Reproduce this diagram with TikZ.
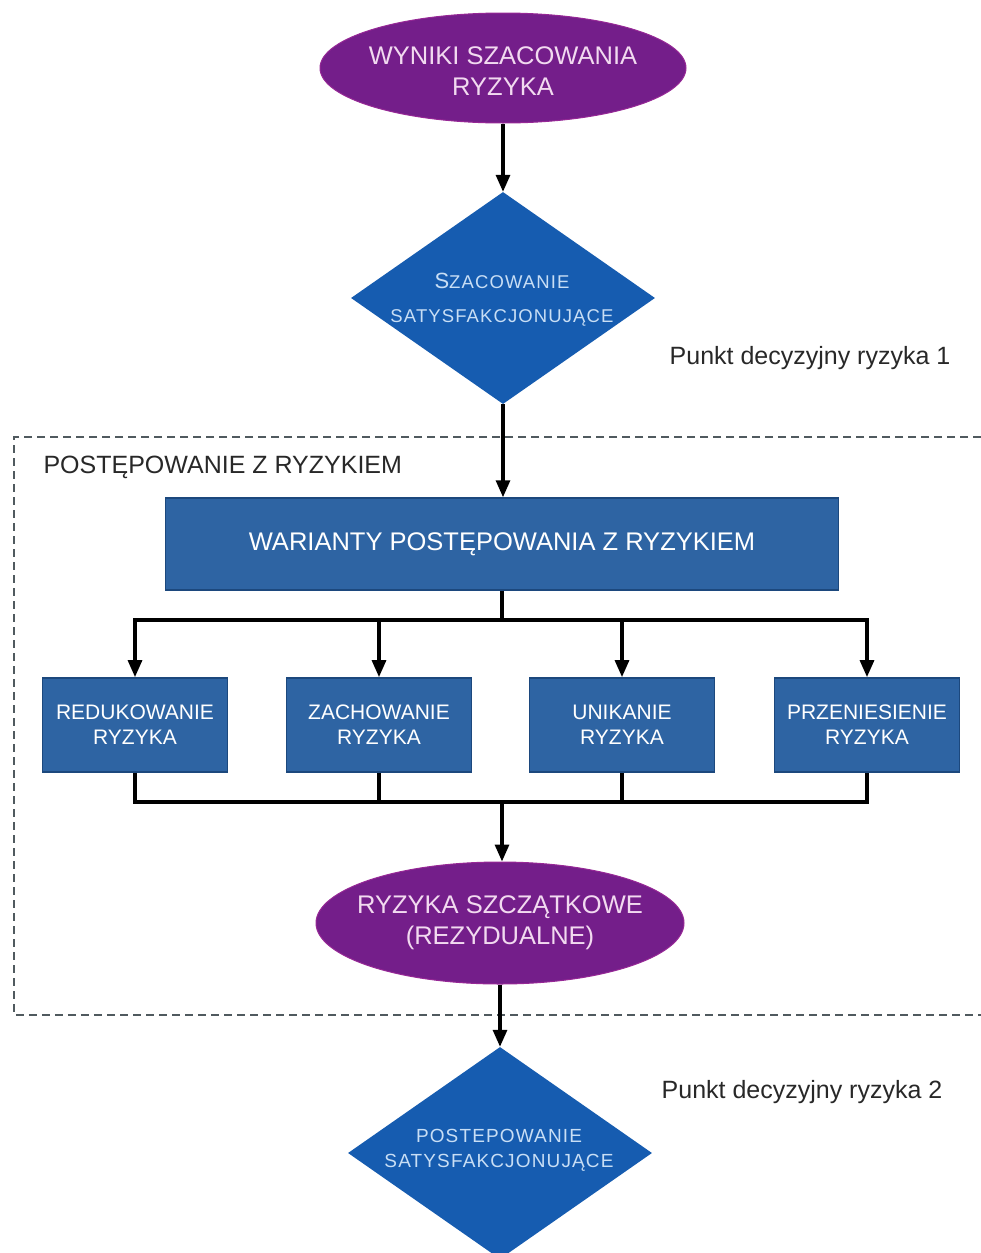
\documentclass[tikz,border=0pt]{standalone}
\usepackage{fontspec}
\setmainfont{Liberation Sans}
\usetikzlibrary{shapes.geometric,arrows.meta}
\definecolor{purp}{RGB}{116,30,138}
\definecolor{purpedge}{RGB}{150,40,150}
\definecolor{dblue}{RGB}{22,92,176}
\definecolor{rblue}{RGB}{46,100,163}
\definecolor{rblueedge}{RGB}{28,72,125}
\definecolor{ptext}{RGB}{242,218,240}
\definecolor{dtext}{RGB}{200,222,245}
\definecolor{framecol}{RGB}{80,90,95}
\definecolor{lbl}{RGB}{40,40,40}
\begin{document}
\begin{tikzpicture}[x=1pt,y=-1pt,
  ell/.style={ellipse, fill=purp, draw=purpedge, line width=1pt, minimum width=366pt, minimum height=110pt, inner sep=0pt},
  ell2/.style={ell, minimum width=368pt, minimum height=122pt},
  dia/.style={diamond, fill=dblue, minimum width=304pt, minimum height=212pt, inner sep=0pt},
  ptxt/.style={text=ptext, align=center, font=\fontsize{25.5}{31}\selectfont},
  dtxt/.style={text=dtext, align=center, font=\fontsize{18.5}{34}\selectfont\addfontfeature{LetterSpace=6}},
  bigbox/.style={rectangle, fill=rblue, draw=rblueedge, line width=1.5pt, minimum width=673pt, minimum height=92pt, text=white, font=\fontsize{25.5}{31}\selectfont},
  smallbox/.style={rectangle, fill=rblue, draw=rblueedge, line width=1.8pt, minimum width=185pt, minimum height=94pt, text=white, align=center, font=\fontsize{21}{25}\selectfont},
  conn/.style={line width=3.2pt, black},
  arr/.style={conn, -{Triangle[length=17pt,width=14pt]}},
  framebox/.style={dashed, dash pattern=on 8pt off 5pt, line width=1.8pt, framecol},
  note/.style={text=lbl, font=\fontsize{25}{30}\selectfont}
]
\useasboundingbox (0,0) rectangle (981,1253);
\clip (0,0) rectangle (981,1253);

% dashed frame (open on the right)
\draw[framebox] (981,437) -- (14,437) -- (14,1015) -- (981,1015);
\node[note, anchor=west] (pzr) at (40,467) {POSTĘPOWANIE Z RYZYKIEM};

% top ellipse
\node[ell] (wyn) at (503,68) {};
\node[ptxt] (wynt) at (503,71) {WYNIKI SZACOWANIA\\RYZYKA};

% diamond 1
\node[dia] (d1) at (503,298) {};
\node[dtxt] (d1t) at (502,300) {{\fontsize{22}{34}\selectfont S}ZACOWANIE\\SATYSFAKCJONUJĄCE};
\node[note] (p1) at (810,358) {Punkt decyzyjny ryzyka 1};

% big rectangle
\node[bigbox] (war) at (502,544) {WARIANTY POSTĘPOWANIA Z RYZYKIEM};

% four options
\node[smallbox] (b1) at (135,725) {REDUKOWANIE\\RYZYKA};
\node[smallbox] (b2) at (379,725) {ZACHOWANIE\\RYZYKA};
\node[smallbox] (b3) at (622,725) {UNIKANIE\\RYZYKA};
\node[smallbox] (b4) at (867,725) {PRZENIESIENIE\\RYZYKA};

% residual ellipse
\node[ell2] (rs) at (500,923) {};
\node[ptxt] (rst) at (rs.center) {RYZYKA SZCZĄTKOWE\\(REZYDUALNE)};

% diamond 2
\node[dia] (d2) at (500,1153) {};
\node[dtxt, font=\fontsize{19}{25}\selectfont\addfontfeature{LetterSpace=6}] (d2t) at (499,1150) {POSTEPOWANIE\\SATYSFAKCJONUJĄCE};
\node[note] (p2) at (802,1092) {Punkt decyzyjny ryzyka 2};

% connectors
\coordinate (split) at (502,620);
\coordinate (join) at (502,802);
\draw[arr] (wyn.south) -- (d1.north);
\draw[arr] (d1.south) -- (d1.south |- war.north);
\draw[conn] (war.south) -- (split);
\draw[conn, line cap=rect] (b1.north |- split) -- (b4.north |- split);
\foreach \b in {b1,b2,b3,b4} {
  \draw[arr] (\b.north |- split) -- (\b.north);
  \draw[conn] (\b.south) -- (\b.south |- join);
}
\draw[conn, line cap=rect] (b1.south |- join) -- (b4.south |- join);
\draw[arr] (join) -- (join |- rs.north);
\draw[arr] (rs.south) -- (rs.south |- d2.north);
\end{tikzpicture}
\end{document}
